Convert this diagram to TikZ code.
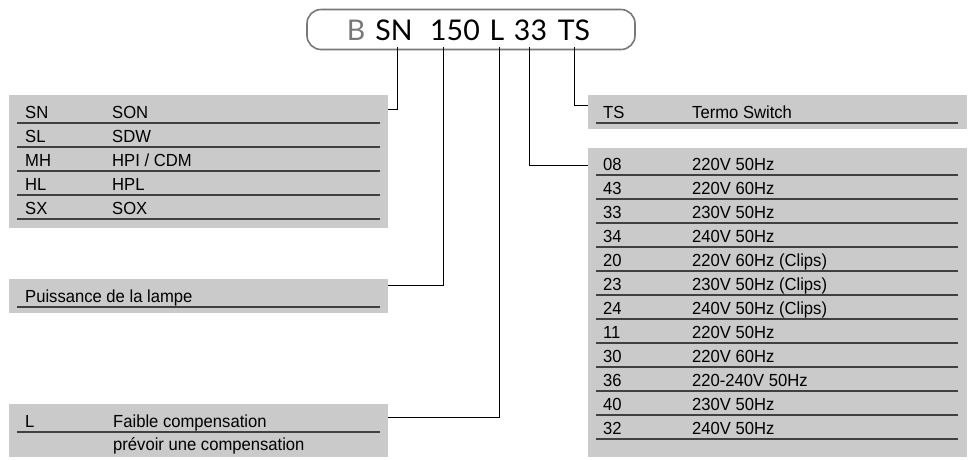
\documentclass[tikz,border=0pt]{standalone}
\usepackage{fontspec}
\setmainfont{Liberation Sans}[FakeStretch=0.95]
\newfontfamily\titlefont{Lato}
\definecolor{panelgray}{RGB}{202,202,202}
\definecolor{rulegray}{RGB}{64,64,64}
\definecolor{boxgray}{RGB}{120,120,120}

\begin{document}
\begin{tikzpicture}[x=1pt,y=-1pt,font=\fontsize{17.5}{19}\selectfont,
  panel/.style={fill=panelgray,anchor=north west,inner sep=0pt,outer sep=0pt},
  rowline/.style={draw=rulegray,line width=1.3pt},
  wire/.style={draw=black,line width=1pt},
  cell/.style={anchor=base west,inner sep=0pt},
  tok/.style={anchor=base,inner sep=0pt,outer ysep=7pt,font=\titlefont\fontsize{28.5}{30}\selectfont}]
\useasboundingbox (0,0) rectangle (969,459);
\node[draw=boxgray,line width=1.6pt,rounded corners=14pt,minimum width=328pt,minimum height=40pt] (code) at (471,29.5) {};
\node[tok,text=boxgray] (tB) at (356,40) {B};
\node[tok] (tSN) at (394,40) {SN}; \node[tok] (tW) at (455,40) {150}; \node[tok] (tL) at (497,40) {L};
\node[tok] (tV) at (530.5,40) {33}; \node[tok] (tTS) at (574,40) {TS};
\node[panel,minimum width=379pt,minimum height=133pt] (codes) at (9,95) {};
\node[panel,minimum width=379pt,minimum height=34pt] (power) at (9,279) {};
\node[panel,minimum width=379pt,minimum height=53pt] (comp) at (9,404) {};
\node[panel,minimum width=379pt,minimum height=34pt] (switch) at (588,95) {};
\node[panel,minimum width=379pt,minimum height=309pt] (volt) at (588,148) {};
\foreach \c/\n [count=\i] in {SN/SON,SL/SDW,MH/{HPI / CDM},HL/HPL,SX/SOX}{
  \node[cell] (c\i) at (25,{94+24*\i}) {\c}; \node[cell] (n\i) at (112,{94+24*\i}) {\n};
  \draw[rowline] (17,{99+24*\i})--(380,{99+24*\i});}
\node[cell] (pw) at (25,302) {Puissance de la lampe}; \draw[rowline] (17,307)--(380,307);
\node[cell] (lc) at (25,427) {L}; \node[cell] (ln) at (113,427) {Faible compensation};
\draw[rowline] (17,432)--(380,432); \node[cell] (lp) at (113,450) {prévoir une compensation};
\node[cell] (ts) at (603,118) {TS}; \node[cell] (tn) at (692,118) {Termo Switch}; \draw[rowline] (596,123)--(958,123);
\foreach \c/\n [count=\i] in {08/220V 50Hz,43/220V 60Hz,33/230V 50Hz,34/240V 50Hz,20/220V 60Hz (Clips),23/230V 50Hz (Clips),24/240V 50Hz (Clips),11/220V 50Hz,30/220V 60Hz,36/220-240V 50Hz,40/230V 50Hz,32/240V 50Hz}{
  \node[cell] (v\i) at (603,{146+24*\i}) {\c}; \node[cell] (h\i) at (692,{146+24*\i}) {\n};
  \draw[rowline] (596,{151+24*\i})--(958,{151+24*\i});}
\draw[wire] ([xshift=3pt]tSN.south) |- ([yshift=-14pt]codes.north east);
\draw[wire] ([xshift=-12pt]tW.south) |- ([yshift=-6pt]power.north east);
\draw[wire] ([xshift=2pt]tL.south) |- ([yshift=-13pt]comp.north east);
\draw[wire] ([xshift=-1.5pt]tV.south) |- ([yshift=-17pt]volt.north west);
\draw[wire] (tTS.south) |- ([yshift=-10pt]switch.north west);
\end{tikzpicture}
\end{document}
